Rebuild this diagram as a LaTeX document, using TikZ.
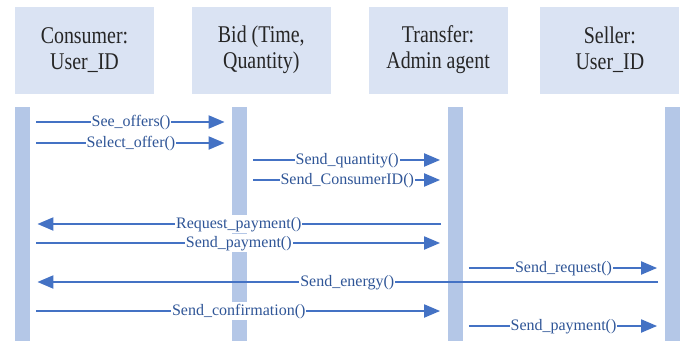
\documentclass[tikz,border=0pt]{standalone}
\usepackage{fontspec}
\setmainfont{Liberation Serif}
\newfontfamily\headfont{Liberation Serif}[FakeStretch=0.83]
\usepackage{tikz}
\usetikzlibrary{arrows.meta,positioning}
\definecolor{boxfill}{HTML}{DAE3F3}
\definecolor{barfill}{HTML}{B4C7E7}
\definecolor{msgblue}{HTML}{4472C4}
\definecolor{msgtext}{HTML}{2F5597}

\begin{document}
\begin{tikzpicture}[x=1pt, y=-1pt, node distance={37pt}, thick,
    head/.style={fill=boxfill, minimum width=139pt, minimum height=87pt, inner sep=0pt, align=center, font=\headfont\fontsize{24}{26}\selectfont, text=black!85},
    life/.style={fill=barfill, minimum width=15pt, minimum height=234pt, inner sep=0pt, anchor=north},
    ar/.style={-{Triangle[length=16pt,width=13pt]}, draw=msgblue, line width=2pt, shorten <=6pt, shorten >=7pt},
    msg/.style={midway, fill=white, inner sep=1pt, text height=12pt, text depth=4pt, text=msgtext, font=\rmfamily\fontsize{16}{18}\selectfont}]
  \useasboundingbox (0,0) rectangle (681,341);

  % objects
  \node[head] (1) at (84.5,50) {Consumer:\\User\_ID};
  \node[head] (2) [right=of 1] {Bid (Time,\\Quantity)};
  \node[head] (3) [right=of 2] {Transfer:\\Admin agent};
  \node[head] (4) [right=32pt of 3] {Seller:\\User\_ID};

  % lifelines
  \node[life] (c) at (22.5,107) {};
  \node[life] (b) at (239.5,107) {};
  \node[life] (t) at (455,107) {};
  \node[life] (s) at (672,107) {};

  % message rows
  \coordinate (r1) at (0,122);
  \coordinate (r2) at (0,143);
  \coordinate (r3) at (0,160);
  \coordinate (r4) at (0,180);
  \coordinate (r5) at (0,224);
  \coordinate (r6) at (0,243);
  \coordinate (r7) at (0,268);
  \coordinate (r8) at (0,282);
  \coordinate (r9) at (0,311);
  \coordinate (r10) at (0,326);

  \draw[ar] (c.east |- r1) -- (b.west |- r1) node[msg]{See\_offers()};
  \draw[ar] (c.east |- r2) -- (b.west |- r2) node[msg]{Select\_offer()};
  \draw[ar] (b.east |- r3) -- (t.west |- r3) node[msg]{Send\_quantity()};
  \draw[ar] (b.east |- r4) -- (t.west |- r4) node[msg]{Send\_ConsumerID()};
  \draw[ar] (t.west |- r5) -- (c.east |- r5) node[msg]{Request\_payment()};
  \draw[ar] (c.east |- r6) -- (t.west |- r6) node[msg]{Send\_payment()};
  \draw[ar] (t.east |- r7) -- (s.west |- r7) node[msg]{Send\_request()};
  \draw[ar] (s.west |- r8) -- (c.east |- r8) node[msg]{Send\_energy()};
  \draw[ar] (c.east |- r9) -- (t.west |- r9) node[msg]{Send\_confirmation()};
  \draw[ar] (t.east |- r10) -- (s.west |- r10) node[msg]{Send\_payment()};
\end{tikzpicture}
\end{document}
